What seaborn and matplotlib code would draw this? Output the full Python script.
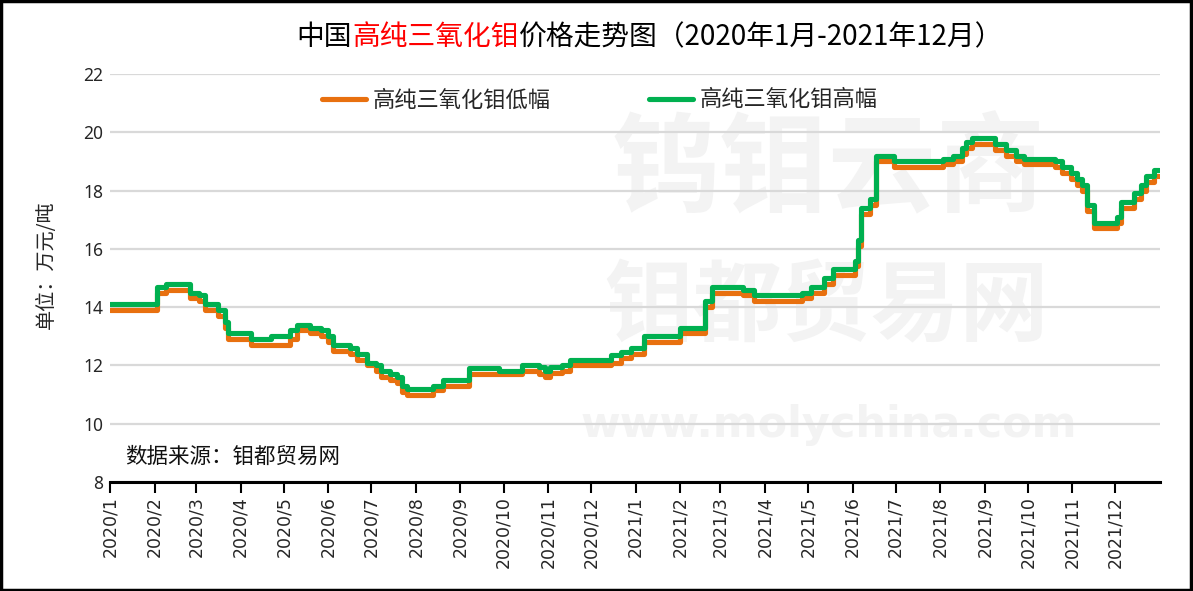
import matplotlib
matplotlib.use("Agg")
import matplotlib.pyplot as plt
import seaborn as sns
import pandas as pd
from matplotlib.lines import Line2D
from matplotlib.patches import Rectangle

# ---------------- data (change points of the daily price, 万元/吨) ----------------
dates = [
    "2020-01-01", "2020-02-03", "2020-02-09", "2020-02-26", "2020-03-03", "2020-03-07",
    "2020-03-16", "2020-03-21", "2020-03-23", "2020-04-08", "2020-04-22", "2020-05-05",
    "2020-05-10", "2020-05-19", "2020-05-27", "2020-06-01", "2020-06-04", "2020-06-16",
    "2020-06-21", "2020-06-28", "2020-07-04", "2020-07-08", "2020-07-14", "2020-07-19",
    "2020-07-22", "2020-07-26", "2020-08-13", "2020-08-20", "2020-09-07", "2020-09-28",
    "2020-10-14", "2020-10-26", "2020-10-30", "2020-11-02", "2020-11-11", "2020-11-16",
    "2020-12-15", "2020-12-22", "2020-12-29", "2021-01-07", "2021-02-01", "2021-02-18",
    "2021-02-23", "2021-03-17", "2021-03-24", "2021-04-27", "2021-05-03", "2021-05-12",
    "2021-05-18", "2021-06-03", "2021-06-05", "2021-06-07", "2021-06-13", "2021-06-17",
    "2021-06-30", "2021-08-03", "2021-08-10", "2021-08-16", "2021-08-19", "2021-08-23",
    "2021-09-08", "2021-09-16", "2021-09-23", "2021-09-28", "2021-10-20", "2021-10-25",
    "2021-10-31", "2021-11-04", "2021-11-08", "2021-11-11", "2021-11-16", "2021-12-02",
    "2021-12-05", "2021-12-14", "2021-12-19", "2021-12-22", "2021-12-28", "2021-12-31",
]
high = [
    14.1, 14.7, 14.8, 14.5, 14.4, 14.1,
    13.9, 13.5, 13.1, 12.9, 13.0, 13.2,
    13.4, 13.3, 13.2, 13.0, 12.7, 12.6,
    12.4, 12.1, 12.0, 11.8, 11.7, 11.6,
    11.3, 11.2, 11.3, 11.5, 11.9, 11.8,
    12.0, 11.95, 11.8, 11.95, 12.0, 12.2,
    12.35, 12.45, 12.6, 13.0, 13.3, 14.2,
    14.7, 14.6, 14.4, 14.5, 14.7, 15.0,
    15.3, 15.6, 16.3, 17.4, 17.7, 19.2,
    19.0, 19.1, 19.2, 19.45, 19.65, 19.8,
    19.6, 19.4, 19.2, 19.1, 19.0, 18.8,
    18.6, 18.4, 18.2, 17.5, 16.9, 17.1,
    17.6, 17.9, 18.2, 18.5, 18.7, 18.7,
]
low = [
    13.9, 14.5, 14.6, 14.3, 14.2, 13.9,
    13.7, 13.3, 12.9, 12.7, 12.7, 12.9,
    13.2, 13.1, 13.0, 12.8, 12.5, 12.4,
    12.2, 12.0, 11.8, 11.6, 11.5, 11.4,
    11.1, 11.0, 11.15, 11.3, 11.7, 11.7,
    11.8, 11.7, 11.6, 11.75, 11.8, 12.0,
    12.1, 12.25, 12.4, 12.8, 13.1, 14.0,
    14.5, 14.4, 14.2, 14.3, 14.5, 14.8,
    15.1, 15.4, 16.1, 17.2, 17.5, 19.0,
    18.8, 18.9, 19.0, 19.25, 19.45, 19.6,
    19.4, 19.2, 19.0, 18.9, 18.8, 18.6,
    18.4, 18.2, 18.0, 17.3, 16.7, 16.9,
    17.4, 17.7, 18.0, 18.3, 18.5, 18.5,
]
series_names = ["高纯三氧化钼低幅", "高纯三氧化钼高幅"]
series_colors = ["#E8700F", "#00B050"]
y_ticks = [8, 10, 12, 14, 16, 18, 20, 22]
month_ticks = pd.date_range("2020-01-01", "2021-12-01", freq="MS")
month_labels = [f"{d.year}/{d.month}" for d in month_ticks]

# ---------------- figure ----------------
sns.set_theme(style="white")
plt.rcParams["font.family"] = ["Noto Sans CJK SC", "DejaVu Sans"]

W, H = 1193, 591
fig = plt.figure(figsize=(W / 100, H / 100), dpi=100)
L, R, T, B = 110, 1160, 74, 482
ax = fig.add_axes([L / W, 1 - B / H, (R - L) / W, (B - T) / H])

# faint watermark
wm = "#f3f3f3"
ax.text(828 / W, 1 - 172 / H, "钨钼云商", transform=fig.transFigure, fontsize=78,
        fontweight="bold", color=wm, ha="center", va="center", zorder=0.1)
ax.text(826 / W, 1 - 308 / H, "钼都贸易网", transform=fig.transFigure, fontsize=64,
        fontweight="bold", color=wm, ha="center", va="center", zorder=0.1)
ax.text(829 / W, 1 - 425 / H, "www.molychina.com", transform=fig.transFigure, fontsize=31,
        fontweight="bold", color=wm, ha="center", va="center", zorder=0.1,
        family="DejaVu Sans")

df = pd.DataFrame({"date": pd.to_datetime(dates), series_names[0]: low, series_names[1]: high})
long = df.melt(id_vars="date", var_name="series", value_name="price")
sns.lineplot(data=long, x="date", y="price", hue="series", hue_order=series_names,
             palette=series_colors, drawstyle="steps-post", linewidth=3.7,
             legend=False, ax=ax, zorder=3)

ax.set_xlim(pd.Timestamp("2020-01-01"), pd.Timestamp("2022-01-01"))
ax.set_ylim(8, 22)
ax.set_yticks(y_ticks)
ax.set_yticklabels([str(v) for v in y_ticks], fontsize=12.5, family="Noto Sans")
ax.set_xticks(month_ticks)
ax.set_xticklabels(month_labels, rotation=90, fontsize=12.5, family="DejaVu Sans")
ax.tick_params(axis="x", direction="out", length=8, width=1.5, color="black", pad=2,
               bottom=True)
ax.tick_params(axis="y", length=0, pad=5)
ax.set_xlabel("")
ax.set_ylabel("")
ax.set_axisbelow(True)
ax.yaxis.grid(True, color="#d9d9d9", linewidth=1.6)
ax.xaxis.grid(False)
for s in ["left", "right", "top"]:
    ax.spines[s].set_visible(False)
ax.spines["bottom"].set_color("black")
ax.spines["bottom"].set_linewidth(2.2)
ax.spines["bottom"].set_zorder(4)

# legend
handles = [Line2D([0], [0], color=c, lw=3.7) for c in series_colors]
ax.legend(handles, series_names, loc="center", bbox_to_anchor=((600 - L) / (R - L), (B - 100) / (B - T)),
          ncol=2, frameon=False, fontsize=16, handlelength=2.0, handletextpad=0.3,
          columnspacing=4.4)

# source note
ax.text((125 - L) / (R - L), (B - 457) / (B - T), "数据来源：钼都贸易网", transform=ax.transAxes,
        fontsize=15.5, ha="left", va="center", color="#111111")

# y label
fig.text(46 / W, 1 - 265 / H, "单位：万元/吨", rotation=90, fontsize=14.5,
         ha="center", va="center")

# multi-colour title
parts = [("中国", "black"), ("高纯三氧化钼", "#FF0000"), ("价格走势图（2020年1月-2021年12月）", "black")]
renderer = fig.canvas.get_renderer()
texts, widths = [], []
for s, c in parts:
    t = fig.text(0, 1 - 37 / H, s, color=c, fontsize=20, ha="left", va="center")
    widths.append(t.get_window_extent(renderer).width)
    texts.append(t)
x0 = 650 - sum(widths) / 2
for t, w in zip(texts, widths):
    t.set_x(x0 / W)
    x0 += w

# outer frame
fig.patches.append(Rectangle((0.001, 0.002), 0.997, 0.996, transform=fig.transFigure,
                             fill=False, edgecolor="black", linewidth=2.5))

fig.savefig("out.png", dpi=100)
